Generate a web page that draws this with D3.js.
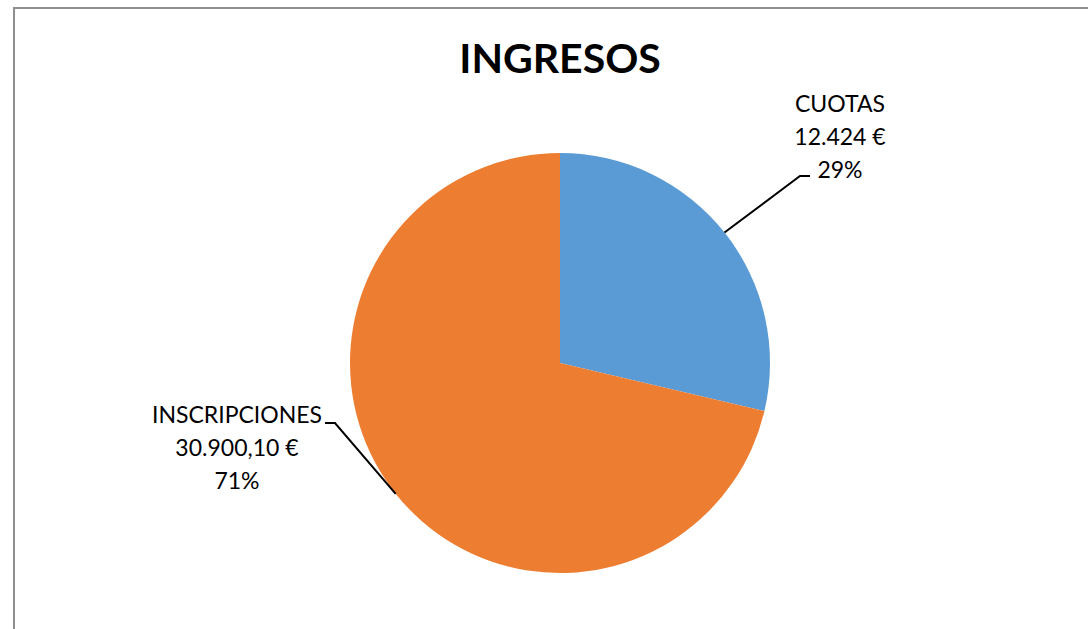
<!DOCTYPE html>
<html>
<head>
<meta charset="utf-8">
<script src="https://cdn.jsdelivr.net/npm/d3@7"></script>
<style>
  body { margin: 0; background: #fff; }
  text { font-family: Lato, "Open Sans", sans-serif; }
</style>
</head>
<body>
<div class="chart"></div>
<script>
var categories = ['CUOTAS', 'INSCRIPCIONES'];
var values = [12424, 30900.10];
var valueLabels = ['12.424 €', '30.900,10 €'];
var colors = ['#5B9BD5', '#ED7D31'];

var width = 1088;
var height = 629;

var svg = d3.select('.chart')
  .append('svg')
    .attr('width', width)
    .attr('height', height);

// chart frame (runs off the right and bottom edges)
svg.append('rect')
  .attr('x', 14)
  .attr('y', 8)
  .attr('width', 1100)
  .attr('height', 700)
  .style('fill', '#fff')
  .style('stroke', '#8f8f8f')
  .style('stroke-width', 2);

svg.append('text')
  .attr('x', 560)
  .attr('y', 73)
  .attr('text-anchor', 'middle')
  .style('font-size', '41px')
  .style('font-weight', 'bold')
  .text('INGRESOS');

var cx = 560, cy = 363, radius = 210;
var total = d3.sum(values);

var pie = d3.pie().sort(null).value(d => d);
var arc = d3.arc().innerRadius(0).outerRadius(radius);

var g = svg.append('g')
  .attr('transform', `translate(${cx}, ${cy})`);

var arcs = pie(values);

g.selectAll('path')
  .data(arcs)
  .enter()
  .append('path')
    .attr('d', arc)
    .style('fill', (d, i) => colors[i]);

// label positions (centre of text block) and leader elbows
var labelPos = [
  { x: 840, y: 103, rimAngle: 0.90, elbow: [800, 176], end: [810, 176] },
  { x: 237, y: 414, rimAngle: 4.04, elbow: [335, 423], end: [325, 423] }
];

arcs.forEach(function (d, i) {
  var p = labelPos[i];
  // point on the rim where leader starts
  var a = p.rimAngle;
  var rim = [cx + radius * Math.sin(a), cy - radius * Math.cos(a)];
  svg.append('polyline')
    .attr('points', [rim, p.elbow, p.end].map(q => q.join(',')).join(' '))
    .style('fill', 'none')
    .style('stroke', '#000')
    .style('stroke-width', 2);

  var pct = Math.round(d.value / total * 100) + '%';
  var lines = [categories[i], valueLabels[i], pct];
  var t = svg.append('text')
    .attr('text-anchor', 'middle')
    .style('font-size', '23px')
    .style('fill', '#000');
  lines.forEach(function (s, k) {
    t.append('tspan')
      .attr('x', p.x)
      .attr('y', p.y + 9 + k * 33)
      .text(s);
  });
});
</script>
</body>
</html>
